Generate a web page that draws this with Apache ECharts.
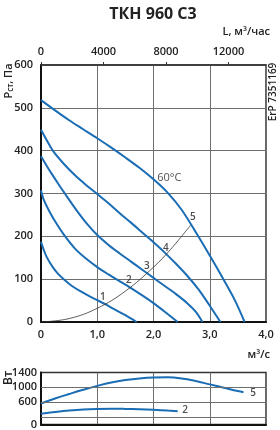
<!DOCTYPE html>
<html>
<head>
<meta charset="utf-8">
<script src="https://cdn.jsdelivr.net/npm/echarts@6/dist/echarts.min.js"></script>
<style>html,body{margin:0;padding:0;background:#fff}#c{width:280px;height:430px}</style>
</head>
<body>
<div id="c"></div>
<script>
// ---- data (flow m³/s, static pressure Pa) ----
const curve1 = [[0,187],[0.05,168],[0.1,152],[0.2,130],[0.3,113],[0.42,98],[0.55,84],[0.7,72],[0.85,61],[1.0,51],[1.15,41],[1.3,30],[1.5,16],[1.7,0]];
const curve2 = [[0,307],[0.05,285],[0.15,258],[0.25,235],[0.4,205],[0.6,172],[0.8,148],[1.0,128],[1.2,111],[1.4,95],[1.6,79],[1.8,62],[2.0,44],[2.2,24],[2.43,0]];
const curve3 = [[0,387],[0.1,365],[0.2,344],[0.3,324],[0.45,295],[0.62,263],[0.8,232],[1.0,203],[1.2,180],[1.4,160],[1.6,141],[1.8,122],[2.0,103],[2.2,84],[2.4,65],[2.6,44],[2.75,24],[2.87,0]];
const curve4 = [[0,449],[0.1,425],[0.21,400],[0.4,370],[0.6,343],[0.8,320],[1.0,299],[1.2,277],[1.4,254],[1.6,232],[1.8,209],[2.0,186],[2.2,162],[2.4,136],[2.6,108],[2.8,76],[3.0,38],[3.19,0]];
const curve5 = [[0,518],[0.25,494],[0.5,471],[0.75,450],[1.0,429],[1.25,407],[1.5,384],[1.75,360],[2.0,333],[2.25,302],[2.5,262],[2.75,210],[3.0,155],[3.25,98],[3.45,50],[3.62,0]];
const systemLine = [[0,0],[0.5,8],[1.0,32],[1.5,72],[2.0,128],[2.3,169],[2.66,226]];
const pointLabels = [['1',1.10,58],['2',1.56,98],['3',1.88,130],['4',2.22,173],['5',2.70,244]];
const tempLabel = ['60°C',2.28,336];
const topTicks = [0,4000,8000,12000];
// power consumption, W
const power5 = [[0,565],[0.25,700],[0.5,820],[0.75,935],[1.0,1040],[1.25,1130],[1.5,1195],[1.75,1240],[2.0,1265],[2.25,1270],[2.5,1240],[2.75,1170],[3.0,1080],[3.25,990],[3.5,900],[3.6,870]];
const power2 = [[0,290],[0.25,335],[0.5,375],[0.75,405],[1.0,420],[1.25,425],[1.5,420],[1.75,410],[2.0,395],[2.25,375],[2.43,360]];
const powerLabels = [['5',3.77,840],['2',2.56,379]];
const powerTicks = [0,200,600,1000,1400];
const powerGridLines = [200,600,1000];

const chart = echarts.init(document.getElementById('c'), null, {renderer:'canvas'});
const FONT = '"Open Sans","Noto Sans",sans-serif';
const txt = '#222';
const blue = '#1a6db5';
const grid = '#6e6e6e';

function curve(d){
  return {type:'line', xAxisIndex:0, yAxisIndex:0, data:d, smooth:0.3, symbol:'none',
    lineStyle:{color:blue, width:2}, silent:true, z:3};
}

chart.setOption({
  animation:false,
  title:{text:'ТКН 960 С3', left:148, top:1, textAlign:'center',
    textStyle:{fontFamily:FONT, fontSize:16, fontWeight:'bold', color:txt}},
  grid:[
    {left:41, top:65, width:225, height:257, show:true, borderColor:'#333', borderWidth:1.5, containLabel:false},
    {left:41, top:372.5, width:225, height:52, show:true, borderColor:'#333', borderWidth:1.5, containLabel:false}
  ],
  xAxis:[
    {gridIndex:0, type:'value', min:0, max:4, interval:1, position:'bottom',
      axisLine:{show:true, onZero:false, lineStyle:{color:'#111', width:2}},
      axisTick:{show:false},
      axisLabel:{margin:7, fontFamily:FONT, fontSize:11, fontWeight:600, color:txt,
        formatter:v=> v===0 ? '0' : v.toFixed(1).replace('.',',')},
      splitLine:{show:true, lineStyle:{color:grid, width:1}}},
    {gridIndex:0, type:'value', min:0, max:14400, interval:4000, position:'top',
      axisLine:{show:true, onZero:false, lineStyle:{color:'#333', width:1.5}},
      axisTick:{show:true, length:3, lineStyle:{color:'#333'}},
      axisLabel:{margin:8, fontFamily:FONT, fontSize:11, fontWeight:600, color:txt, showMaxLabel:false,
        formatter:v=> topTicks.indexOf(v)>=0 ? String(v) : ''},
      splitLine:{show:false}},
    {gridIndex:1, type:'value', min:0, max:4, interval:1,
      axisLine:{show:true, onZero:false, lineStyle:{color:'#111', width:2}},
      axisTick:{show:false}, axisLabel:{show:false},
      splitLine:{show:true, lineStyle:{color:grid, width:1}}}
  ],
  yAxis:[
    {gridIndex:0, type:'value', min:0, max:600, interval:100,
      axisLine:{show:true, onZero:false, lineStyle:{color:'#111', width:2}},
      axisTick:{show:false},
      axisLabel:{margin:8, fontFamily:FONT, fontSize:11, fontWeight:600, color:txt},
      splitLine:{show:true, lineStyle:{color:grid, width:1}}},
    {gridIndex:1, type:'value', min:0, max:1400, interval:200,
      axisLine:{show:true, onZero:false, lineStyle:{color:'#111', width:2}},
      axisTick:{show:false},
      axisLabel:{margin:4, fontFamily:FONT, fontSize:11, fontWeight:600, color:txt,
        showMinLabel:true, showMaxLabel:true, hideOverlap:false,
        formatter:v=> powerTicks.indexOf(v)>=0 ? String(v) : ''},
      splitLine:{show:false}}
  ],
  graphic:[
    {type:'text', right:10, top:26, style:{text:'L, м³/час', fontFamily:FONT, fontSize:11, fontWeight:600, fill:txt}},
    {type:'text', right:10, top:349, style:{text:'м³/с', fontFamily:FONT, fontSize:11, fontWeight:600, fill:txt}},
    {type:'text', x:273, y:92, rotation:Math.PI/2,
      style:{text:'ErP 7351169', fontFamily:FONT, fontSize:10, fontWeight:600, fill:txt, align:'center', verticalAlign:'middle'}},
    {type:'text', x:9, y:81, rotation:Math.PI/2,
      style:{text:'{a|Р}{b|ст}{a|, Па}', align:'center', verticalAlign:'middle',
        rich:{a:{fontFamily:FONT, fontSize:11, fontWeight:600, fill:txt, color:txt},
              b:{fontFamily:FONT, fontSize:8, fontWeight:600, fill:txt, color:txt, padding:[4,0,0,0]}}}},
    {type:'text', x:9, y:378, rotation:Math.PI/2,
      style:{text:'Вт', fontFamily:FONT, fontSize:12, fontWeight:600, fill:txt, align:'center', verticalAlign:'middle'}}
  ],
  series:[
    curve(curve1), curve(curve2), curve(curve3), curve(curve4), curve(curve5),
    {type:'line', xAxisIndex:0, yAxisIndex:0, data:systemLine, smooth:0.4, symbol:'none',
      lineStyle:{color:'#333', width:0.8}, silent:true, z:4},
    {type:'scatter', xAxisIndex:0, yAxisIndex:0, symbolSize:0, silent:true, z:5,
      data:pointLabels.map(p=>({name:p[0], value:[p[1],p[2]]})),
      label:{show:true, position:'inside', formatter:p=>p.name, fontFamily:FONT, fontSize:10, fontWeight:600, color:txt}},
    {type:'scatter', xAxisIndex:0, yAxisIndex:0, symbolSize:0, silent:true, z:5,
      data:[{name:tempLabel[0], value:[tempLabel[1],tempLabel[2]]}],
      label:{show:true, position:'inside', formatter:p=>p.name, fontFamily:FONT, fontSize:11, color:txt}},
    {type:'line', xAxisIndex:2, yAxisIndex:1, data:power5, smooth:0.4, symbol:'none',
      lineStyle:{color:blue, width:2}, silent:true, z:3,
      markLine:{silent:true, symbol:'none', label:{show:false}, animation:false,
        lineStyle:{color:grid, width:1, type:'solid'},
        data:powerGridLines.map(v=>({yAxis:v}))}},
    {type:'line', xAxisIndex:2, yAxisIndex:1, data:power2, smooth:0.4, symbol:'none',
      lineStyle:{color:blue, width:2}, silent:true, z:3},
    {type:'scatter', xAxisIndex:2, yAxisIndex:1, symbolSize:0, silent:true, z:5,
      data:powerLabels.map(p=>({name:p[0], value:[p[1],p[2]]})),
      label:{show:true, position:'inside', formatter:p=>p.name, fontFamily:FONT, fontSize:10, fontWeight:600, color:txt}}
  ]
});
</script>
</body>
</html>
